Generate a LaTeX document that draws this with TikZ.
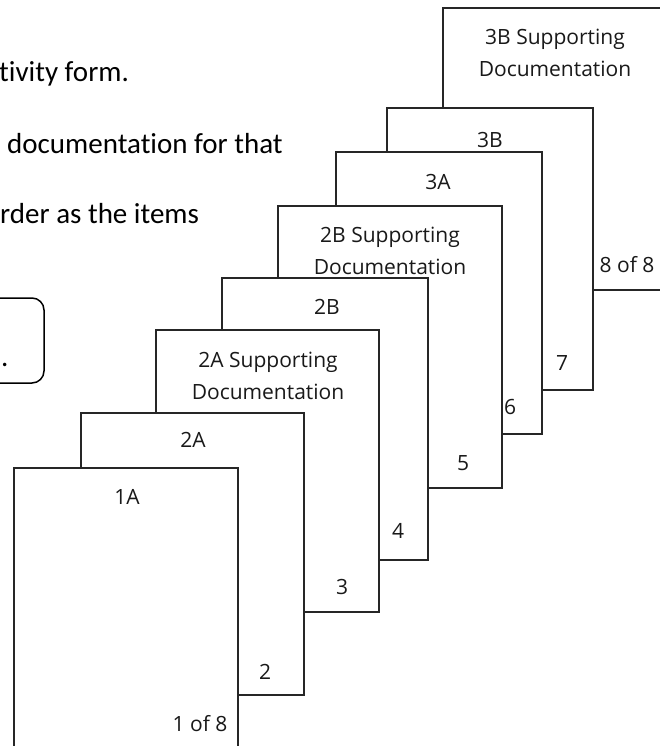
\documentclass[tikz,border=0pt]{standalone}
\usepackage{fontspec}
\setmainfont{Carlito}[Ligatures=NoCommon]
\newfontfamily\labelfont{Open Sans}

\begin{document}
\begin{tikzpicture}
[x=1pt,y=-1pt
,pg/.style={rectangle,draw=black!85,fill=white,line width=1.4pt,minimum width=224pt,minimum height=282pt,anchor=north west,inner sep=0pt,outer sep=0pt}
,narrow/.style={pg,minimum width=206pt}
,ttl/.style={font=\labelfont\fontsize{21}{32}\selectfont,text=black!90,align=center}
,num/.style={font=\labelfont\fontsize{21}{25}\selectfont,text=black!90}
,txt/.style={font=\fontsize{29}{35}\selectfont,anchor=base west,inner sep=0pt}
]
\useasboundingbox (0,0) rectangle (660,746);
% text cut off at the left
\node[txt] (l1) at (-1,82) {tivity form.};
\node[txt] (l2) at (7,154) {documentation for that};
\node[txt] (l3) at (0,223) {rder as the items};
\draw[line width=1.5pt,rounded corners=12pt] (-40,298) rectangle (44,383);
\node[txt] (l4) at (1,366) {.};
% pages, back to front
\node[pg] (p8) at (443,8) {};
\node[ttl] (t8) at (555,53) {3B Supporting\\Documentation};
\node[num] (n8) at (627,265) {8 of 8};
\node[narrow] (p7) at (387,108) {};
\node[ttl] (t7) at (490,140) {3B};
\node[num] (n7) at (562,363) {7};
\node[narrow] (p6) at (336,152) {};
\node[ttl] (t6) at (438,182) {3A};
\node[num] (n6) at (510,407) {6};
\node[pg] (p5) at (278,206) {};
\node[ttl] (t5) at (390,251) {2B Supporting\\Documentation};
\node[num] (n5) at (463,463) {5};
\node[narrow] (p4) at (222,278) {};
\node[ttl] (t4) at (327,307) {2B};
\node[num] (n4) at (398,531) {4};
\node[pg,minimum width=223pt] (p3) at (156,330) {};
\node[ttl] (t3) at (268,376) {2A Supporting\\Documentation};
\node[num] (n3) at (342,587) {3};
\node[pg,minimum width=223pt] (p2) at (81,413) {};
\node[ttl] (t2) at (193,440) {2A};
\node[num] (n2) at (265,672) {2};
\node[pg] (p1) at (14,468) {};
\node[ttl] (t1) at (127,497) {1A};
\node[num] (n1) at (200,724) {1 of 8};
\end{tikzpicture}
\end{document}
